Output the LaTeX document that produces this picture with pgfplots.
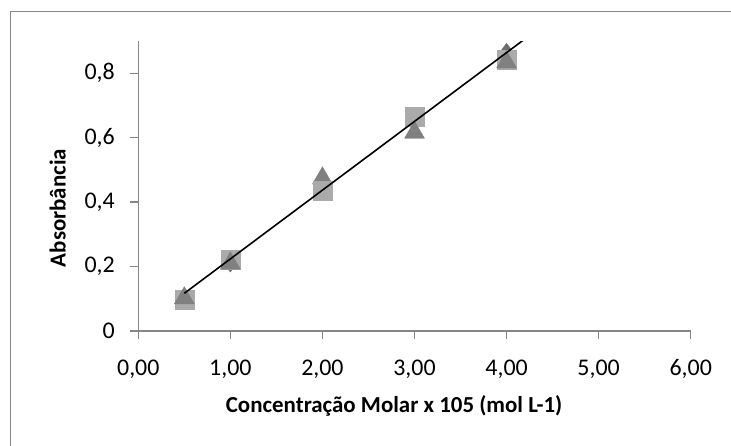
\documentclass[border=0pt]{standalone}
\usepackage{pgfplots}
\pgfplotsset{compat=1.18}
\usepackage{fontspec}
\setmainfont{Carlito}
\definecolor{axgray}{RGB}{134,134,134}
\definecolor{framegray}{RGB}{136,136,136}
\definecolor{sqgray}{RGB}{170,170,170}
\definecolor{trigray}{RGB}{128,128,128}
\definecolor{diagray}{RGB}{110,110,110}
\begin{document}
\begin{tikzpicture}
\begin{axis}[
  scale only axis, width=552.4bp, height=290bp,
  xmin=0, xmax=6, ymin=0, ymax=0.9,
  axis lines=left,
  axis line style={-, draw=axgray, line width=1.3bp},
  tick style={draw=axgray, line width=1.3bp},
  tick align=outside, major tick length=8bp,
  xtick={0,1,2,3,4,5,6},
  xticklabels={{0,00},{1,00},{2,00},{3,00},{4,00},{5,00},{6,00}},
  ytick={0,0.2,0.4,0.6,0.8},
  yticklabels={0,{0,2},{0,4},{0,6},{0,8}},
  /pgf/number format/assume math mode=true,
  ticklabel style={font=\fontsize{24}{28}\selectfont, text=black},
  xticklabel style={yshift=-17bp},
  yticklabel style={xshift=-12bp},
  xlabel={Concentração Molar x 105 (mol L-1)},
  ylabel={Absorbância},
  label style={font=\bfseries\fontsize{23}{27}\selectfont, text=black},
  xlabel style={at={(axis description cs:0.463,0)}, anchor=north, yshift=-61bp},
  ylabel style={at={(axis description cs:0,0.424)}, anchor=south, yshift=69bp},
  clip mode=individual,
]
\addplot[only marks, mark=diamond*, mark size=10bp, mark options={draw=diagray, fill=diagray}]
  coordinates {(0.5,0.10) (1,0.214) (2,0.45) (3,0.65) (4,0.862)};
\addplot[only marks, mark=triangle*, mark size=11.5bp, mark options={draw=trigray, fill=trigray}]
  coordinates {(2,0.474)};
\addplot[only marks, mark=square*, mark size=9.5bp, mark options={draw=sqgray, fill=sqgray}]
  coordinates {(0.5,0.096) (1,0.221) (2,0.436) (3,0.664) (4,0.841)};
\addplot[only marks, mark=triangle*, mark size=11.5bp, mark options={draw=trigray, fill=trigray}]
  coordinates {(0.5,0.102) (1,0.210) (3,0.616) (4,0.834)};
\addplot[black, line width=1.6bp] coordinates {(0.5,0.117) (4.5,0.9706)};
\end{axis}
\draw[framegray, line width=1bp] (-127.3bp,-115bp) -- (-127.3bp,319bp) -- (592.7bp,319bp);
\pgfresetboundingbox
\path (-138.3bp,-115bp) rectangle (592.7bp,331bp);
\end{tikzpicture}
\end{document}
